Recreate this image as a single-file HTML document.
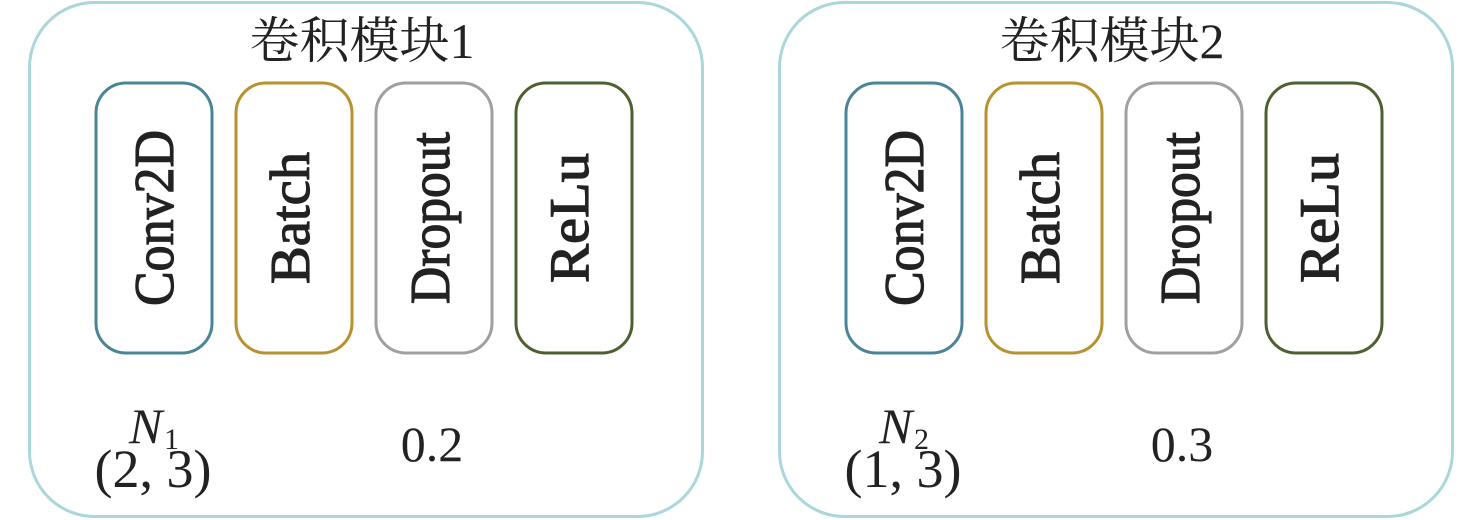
<!DOCTYPE html>
<html><head><meta charset="utf-8"><style>body{margin:0;background:#fff}svg{display:block}text{font-family:"Liberation Serif","Noto Serif CJK SC",serif}.v{stroke:#222;stroke-width:1.2}</style></head>
<body>
<svg width="1476" height="520" viewBox="0 0 1476 520" xmlns="http://www.w3.org/2000/svg" fill="#222">
<g id="m1">
<rect x="29.5" y="2.5" width="673" height="514" rx="65" fill="none" stroke="#abd6dc" stroke-width="3"/>
<text x="362" y="58" font-size="50" text-anchor="middle">卷积模块1</text>
<rect x="96" y="83" width="116" height="270" rx="30" fill="none" stroke="#4a8497" stroke-width="3"/>
<rect x="236" y="83" width="116" height="270" rx="30" fill="none" stroke="#b8922e" stroke-width="3"/>
<rect x="376" y="83" width="116" height="270" rx="30" fill="none" stroke="#a0a0a0" stroke-width="3"/>
<rect x="516" y="83" width="116" height="270" rx="30" fill="none" stroke="#4e6030" stroke-width="3"/>
<text class="v" transform="translate(173,218) rotate(-90)" font-size="56" text-anchor="middle" textLength="176" lengthAdjust="spacingAndGlyphs">Conv2D</text>
<text class="v" transform="translate(309,218) rotate(-90)" font-size="56" text-anchor="middle" textLength="132" lengthAdjust="spacingAndGlyphs">Batch</text>
<text class="v" transform="translate(449,218) rotate(-90)" font-size="56" text-anchor="middle" textLength="172" lengthAdjust="spacingAndGlyphs">Dropout</text>
<text class="v" transform="translate(588,218) rotate(-90)" font-size="56" text-anchor="middle" textLength="130" lengthAdjust="spacingAndGlyphs">ReLu</text>
<text x="129" y="443" font-size="50" font-style="italic">N</text><text x="164" y="449" font-size="30">1</text>
<text x="153" y="487" font-size="54" text-anchor="middle">(2, 3)</text>
<text x="432" y="461" font-size="50" text-anchor="middle">0.2</text>
</g>
<g transform="translate(750,0)">
<rect x="29.5" y="2.5" width="673" height="514" rx="65" fill="none" stroke="#abd6dc" stroke-width="3"/>
<text x="362" y="58" font-size="50" text-anchor="middle">卷积模块2</text>
<rect x="96" y="83" width="116" height="270" rx="30" fill="none" stroke="#4a8497" stroke-width="3"/>
<rect x="236" y="83" width="116" height="270" rx="30" fill="none" stroke="#b8922e" stroke-width="3"/>
<rect x="376" y="83" width="116" height="270" rx="30" fill="none" stroke="#a0a0a0" stroke-width="3"/>
<rect x="516" y="83" width="116" height="270" rx="30" fill="none" stroke="#4e6030" stroke-width="3"/>
<text class="v" transform="translate(173,218) rotate(-90)" font-size="56" text-anchor="middle" textLength="176" lengthAdjust="spacingAndGlyphs">Conv2D</text>
<text class="v" transform="translate(309,218) rotate(-90)" font-size="56" text-anchor="middle" textLength="132" lengthAdjust="spacingAndGlyphs">Batch</text>
<text class="v" transform="translate(449,218) rotate(-90)" font-size="56" text-anchor="middle" textLength="172" lengthAdjust="spacingAndGlyphs">Dropout</text>
<text class="v" transform="translate(588,218) rotate(-90)" font-size="56" text-anchor="middle" textLength="130" lengthAdjust="spacingAndGlyphs">ReLu</text>
<text x="129" y="443" font-size="50" font-style="italic">N</text><text x="164" y="449" font-size="30">2</text>
<text x="153" y="487" font-size="54" text-anchor="middle">(1, 3)</text>
<text x="432" y="461" font-size="50" text-anchor="middle">0.3</text>
</g>
</svg>
</body></html>
